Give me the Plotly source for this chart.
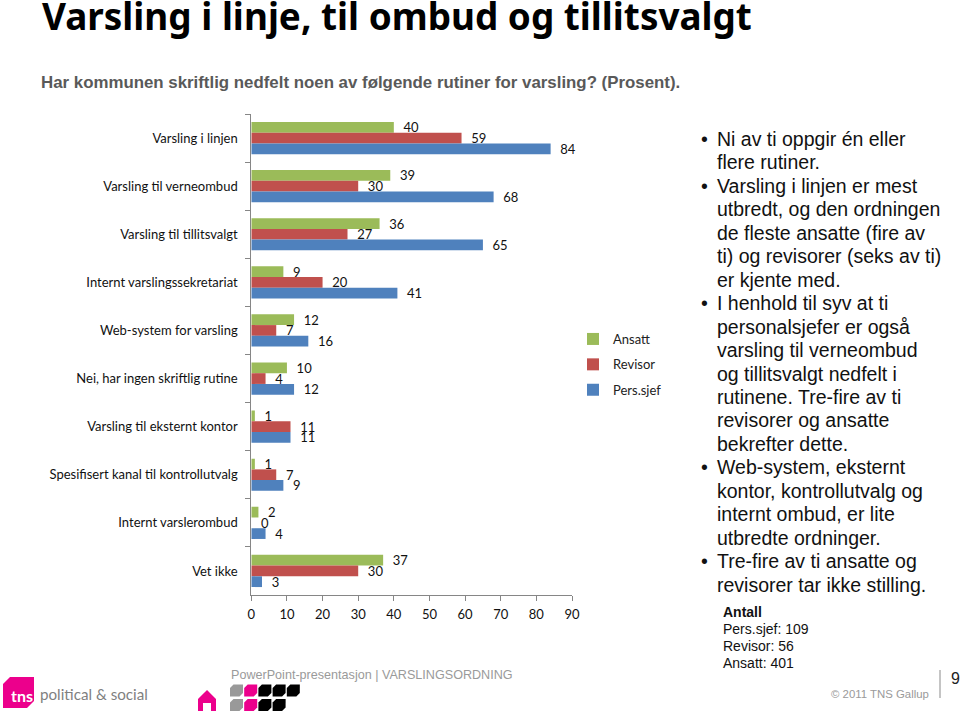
import plotly.graph_objects as go

W, H = 960, 713

CATEGORIES = ["Varsling i linjen", "Varsling til verneombud", "Varsling til tillitsvalgt",
              "Internt varslingssekretariat", "Web-system for varsling", "Nei, har ingen skriftlig rutine",
              "Varsling til eksternt kontor", "Spesifisert kanal til kontrollutvalg", "Internt varslerombud", "Vet ikke"]
ANSATT = [40, 39, 36, 9, 12, 10, 1, 1, 2, 37]
REVISOR = [59, 30, 27, 20, 7, 4, 11, 7, 0, 30]
PERS_SJEF = [84, 68, 65, 41, 16, 12, 11, 9, 4, 3]
X_TICKS = [0, 10, 20, 30, 40, 50, 60, 70, 80, 90]

TITLE = "Varsling i linje, til ombud og tillitsvalgt"
SUBTITLE = "Har kommunen skriftlig nedfelt noen av følgende rutiner for varsling? (Prosent)."
BODY_LINES = [
    ("Ni av ti oppgir én eller", True), ("flere rutiner.", False),
    ("Varsling i linjen er mest", True), ("utbredt, og den ordningen", False),
    ("de fleste ansatte (fire av", False), ("ti) og revisorer (seks av ti)", False),
    ("er kjente med.", False), ("I henhold til syv at ti", True),
    ("personalsjefer er også", False), ("varsling til verneombud", False),
    ("og tillitsvalgt nedfelt i", False), ("rutinene. Tre-fire av ti", False),
    ("revisorer og ansatte", False), ("bekrefter dette.", False),
    ("Web-system, eksternt", True), ("kontor, kontrollutvalg og", False),
    ("internt ombud, er lite", False), ("utbredte ordninger.", False),
    ("Tre-fire av ti ansatte og", True), ("revisorer tar ikke stilling.", False),
]
COUNTS = ["<b>Antall</b>", "Pers.sjef: 109", "Revisor: 56", "Ansatt: 401"]

GREEN, RED, BLUE = "#9BBB59", "#C0504D", "#4F81BD"
PINK = "#EC008C"
CHART_FONT = "Lato"
TEXT_FONT = "Liberation Sans"


def px(x):
    return x / W


def py(y):
    return 1 - y / H


fig = go.Figure()
for name, vals, col in [("Ansatt", ANSATT, GREEN), ("Revisor", REVISOR, RED), ("Pers.sjef", PERS_SJEF, BLUE)]:
    fig.add_trace(go.Bar(
        name=name, legendgroup=name, y=CATEGORIES, x=vals, orientation="h",
        marker=dict(color=col, line=dict(width=0)),
        text=vals, texttemplate="\u00a0\u00a0%{x}", textposition="outside",
        textangle=0, constraintext="none", cliponaxis=False,
        textfont=dict(family=CHART_FONT, size=13, color="#111111"),
    ))

annotations = []


def label(x, y, text, size, color="#000000", family=TEXT_FONT, anchor="left"):
    annotations.append(dict(xref="paper", yref="paper", x=px(x), y=py(y), text=text, showarrow=False,
                            xanchor=anchor, yanchor="middle", borderpad=0, align=anchor,
                            font=dict(family=family, size=size, color=color)))


label(41, 16, "<b>" + TITLE + "</b>", 36.9, "#000000", "Noto Sans")
label(40, 82, "<b>" + SUBTITLE + "</b>", 16.85, "#595959")

for i, (line, bullet) in enumerate(BODY_LINES):
    y = 139 + i * 23.45
    label(716, y, line, 19.5, "#111111")
    if bullet:
        label(700, y, "•", 19.5, "#111111")

for i, line in enumerate(COUNTS):
    label(722, 612 + i * 17, line, 14, "#111111")

label(230, 675, "PowerPoint-presentasjon | VARSLINGSORDNING", 12.6, "#9a9a9a")
label(930, 694, "© 2011 TNS Gallup", 11.4, "#9a9a9a", anchor="right")
label(949.5, 678, "9", 16, "#222222")
label(38.5, 694, "political & social", 15.2, "#7f7f7f", "Lato")
label(10, 695, "<b>tns</b>", 16, "#ffffff", "Lato")

shapes = [dict(type="line", xref="paper", yref="paper", x0=px(940), x1=px(940), y0=py(670), y1=py(698),
               line=dict(color="#8a8a8a", width=1))]


def tile(x, y, w, h, r, col):
    p = [(x + r, y), (x + w, y), (x + w, y + h - r), (x + w - r, y + h), (x, y + h), (x, y + r)]
    path = "M " + " L ".join(f"{px(a):.5f},{py(b):.5f}" for a, b in p) + " Z"
    shapes.append(dict(type="path", xref="paper", yref="paper", path=path, fillcolor=col, line=dict(width=0)))


tile(3, 677, 31, 31, 7, PINK)
for k, c in enumerate(["#999999", PINK, "#000000", "#000000", "#000000"]):
    tile(230 + k * 14.2, 684.5, 13, 12, 3.5, c)
for k, c in enumerate(["#999999", PINK, "#000000", "#000000"]):
    tile(230 + k * 14.2, 699, 13, 12, 3.5, c)
home = [(207, 690), (216, 699), (216, 711), (211, 711), (211, 703), (203, 703), (203, 711), (198, 711), (198, 699)]
shapes.append(dict(type="path", xref="paper", yref="paper",
                   path="M " + " L ".join(f"{px(a):.5f},{py(b):.5f}" for a, b in home) + " Z",
                   fillcolor=PINK, line=dict(width=0)))

fig.update_layout(
    width=W, height=H, autosize=False, margin=dict(l=0, r=0, t=0, b=0, autoexpand=False),
    paper_bgcolor="white", plot_bgcolor="white",
    barmode="group", bargap=0.33, bargroupgap=0,
    font=dict(family=CHART_FONT, size=13, color="#111111"),
    legend=dict(x=px(583), y=py(324), xanchor="left", yanchor="top", traceorder="grouped", indentation=-10,
                tracegroupgap=5.5, itemclick=False, font=dict(family=CHART_FONT, size=13, color="#222222"),
                bgcolor="rgba(0,0,0,0)"),
    annotations=annotations, shapes=shapes,
    xaxis=dict(domain=[px(251.3), px(572)], range=[0, 90], tickmode="array", tickvals=X_TICKS,
               showgrid=False, zeroline=False, showline=True, linecolor="#868686", linewidth=1,
               ticks="outside", ticklen=5, tickcolor="#868686", ticklabelstandoff=2,
               tickfont=dict(family=CHART_FONT, size=13)),
    yaxis=dict(domain=[py(595), py(114)], type="category", categoryorder="array", categoryarray=CATEGORIES,
               range=[9.5, -0.5], showgrid=False, zeroline=False, showline=True, linecolor="#868686",
               linewidth=1, ticks="outside", ticklen=5, tickcolor="#868686", tickson="boundaries",
               ticklabelstandoff=10, tickfont=dict(family=CHART_FONT, size=13)),
)

fig.write_html("out.html", config=dict(displayModeBar=False),
               post_script="document.body.style.margin='0';document.body.style.overflow='hidden';")
